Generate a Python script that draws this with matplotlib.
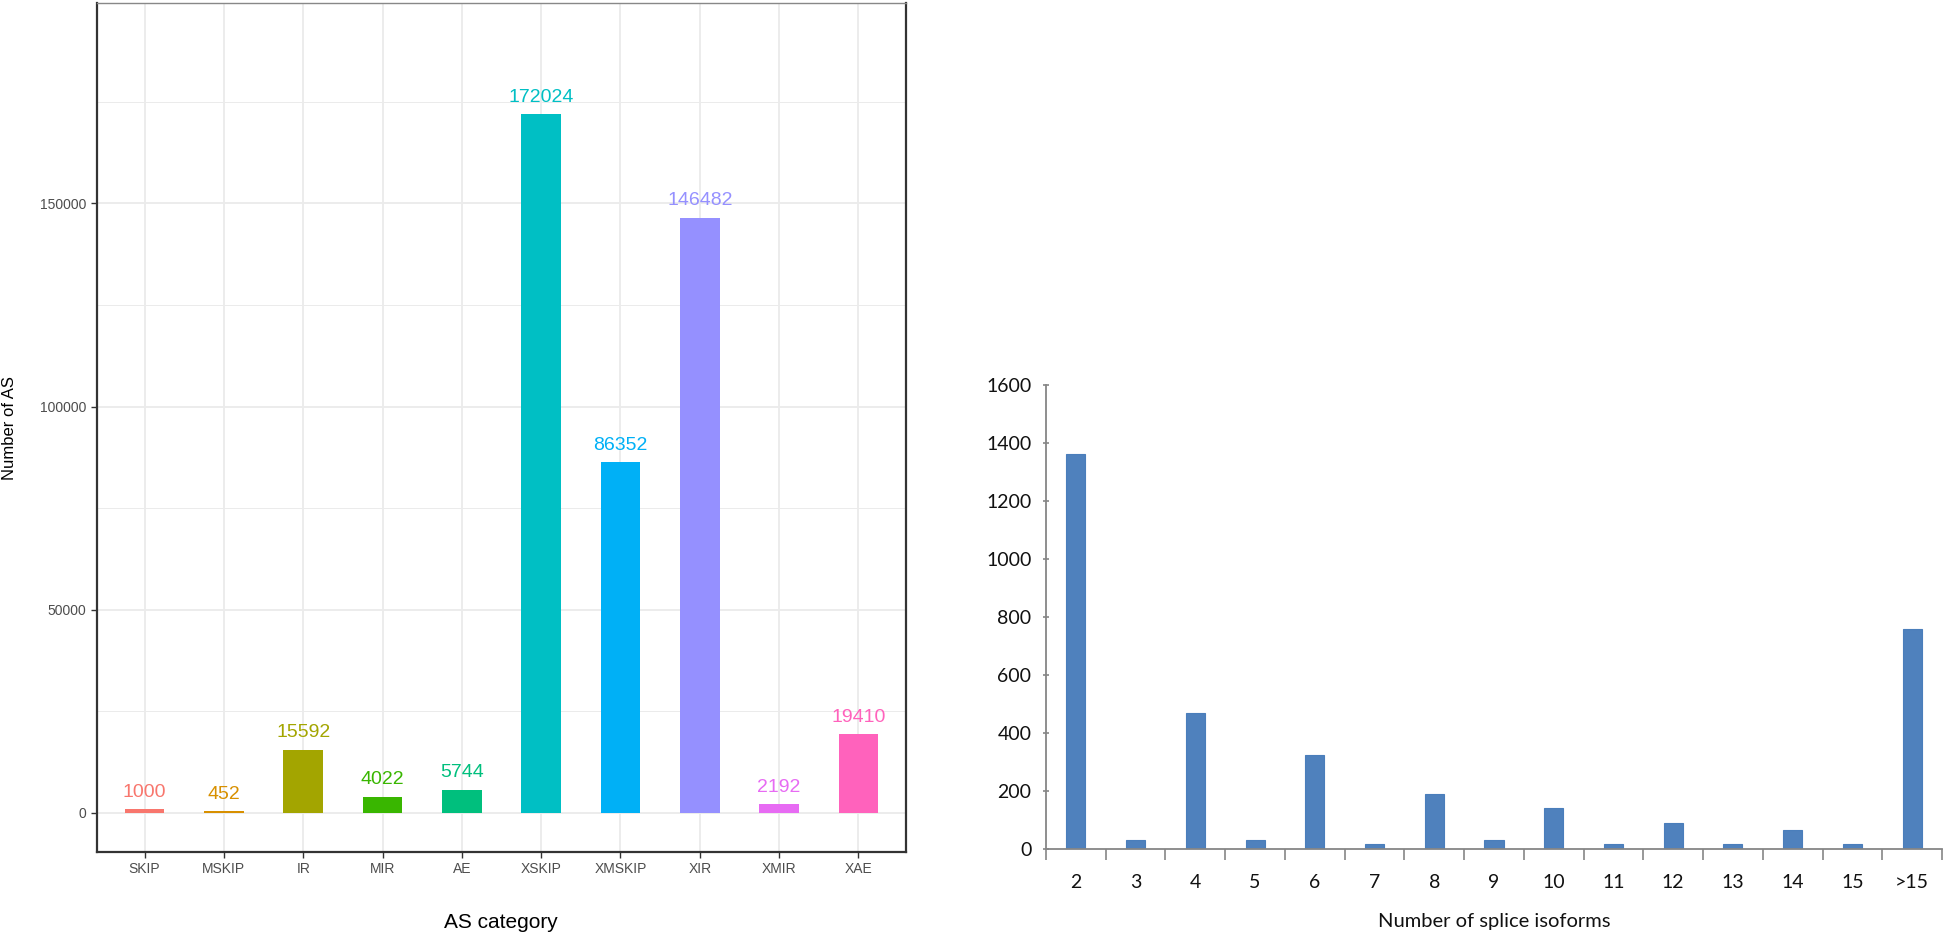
import matplotlib
matplotlib.use("Agg")
import matplotlib.pyplot as plt
import numpy as np

# ---------- données ----------
as_categories = ["SKIP", "MSKIP", "IR", "MIR", "AE", "XSKIP", "XMSKIP", "XIR", "XMIR", "XAE"]
as_counts = [1000, 452, 15592, 4022, 5744, 172024, 86352, 146482, 2192, 19410]
as_colors = ["#F8766D", "#D89000", "#A3A500", "#39B600", "#00BF7D",
             "#00BFC4", "#00B0F6", "#9590FF", "#E76BF3", "#FF62BC"]

isoform_labels = ["2", "3", "4", "5", "6", "7", "8", "9", "10", "11", "12", "13", "14", "15", ">15"]
isoform_counts = [1362, 31, 470, 31, 323, 18, 189, 31, 143, 18, 91, 18, 64, 18, 757]
# ------------------------------

W, H = 1946, 938
fig = plt.figure(figsize=(W / 100, H / 100), dpi=100)

# ---------- panneau gauche (style ggplot theme_bw) ----------
ax1 = fig.add_axes([97 / W, 1 - 852 / H, (906 - 97) / W, (852 - 3) / H])
x = np.arange(len(as_categories))
ax1.set_xlim(-0.6, len(as_categories) - 0.4)
ax1.set_ylim(-9600, 199300)

ax1.set_yticks([0, 50000, 100000, 150000])
ax1.set_yticks([25000, 75000, 125000, 175000], minor=True)
ax1.set_xticks(x)
ax1.set_xticklabels(as_categories)
ax1.grid(True, which="major", color="#EBEBEB", linewidth=1.3, zorder=0)
ax1.grid(True, which="minor", axis="y", color="#EBEBEB", linewidth=0.7, zorder=0)
ax1.set_axisbelow(True)

ax1.bar(x, as_counts, width=0.5, color=as_colors, zorder=2)
for xi, v, c in zip(x, as_counts, as_colors):
    ax1.annotate(str(v), (xi, v), xytext=(0, 6), textcoords="offset points",
                 ha="center", va="bottom", color=c, fontsize=14,
                 family=["Liberation Sans", "DejaVu Sans"])

ax1.tick_params(axis="both", which="major", length=4, width=1, color="#333333",
                labelsize=10, labelcolor="#4D4D4D")
ax1.tick_params(axis="y", which="minor", length=0)
for lab in ax1.get_xticklabels() + ax1.get_yticklabels():
    lab.set_family(["Liberation Sans", "DejaVu Sans"])
for side in ["left", "bottom", "right"]:
    ax1.spines[side].set_color("#333333")
    ax1.spines[side].set_linewidth(1.6)
ax1.spines["top"].set_color("#888888")
ax1.spines["top"].set_linewidth(1.0)

fig.text(10 / W, 1 - 428 / H, "Number of AS", rotation=90, ha="center", va="center",
         fontsize=12, color="black", family=["Liberation Sans", "DejaVu Sans"])
fig.text(501 / W, 1 - 922 / H, "AS category", ha="center", va="center",
         fontsize=15, color="black", family=["Liberation Sans Narrow", "Liberation Sans", "DejaVu Sans"])

# ---------- panneau droit (style Excel) ----------
ax2 = fig.add_axes([1046 / W, 1 - 849 / H, (1942 - 1046) / W, (849 - 385) / H])
xi2 = np.arange(len(isoform_labels))
ax2.bar(xi2, isoform_counts, width=0.32, color="#4F81BD", edgecolor="#4A7EBB",
        linewidth=0.8, zorder=2)
ax2.set_xlim(-0.5, len(isoform_labels) - 0.5)
ax2.set_ylim(0, 1600)
ax2.set_yticks(np.arange(0, 1601, 200))
ax2.set_xticks(xi2)
ax2.set_xticklabels(isoform_labels)
ax2.set_xticks(np.arange(-0.5, len(isoform_labels), 1.0), minor=True)

ax2.tick_params(axis="x", which="major", length=0, pad=18, labelsize=14, labelcolor="#111111")
ax2.tick_params(axis="x", which="minor", length=8, width=1.2, color="#868686", direction="out")
ax2.tick_params(axis="y", which="major", length=5, width=1.2, color="#868686",
                direction="inout", pad=8, labelsize=14, labelcolor="#111111")
for lab in ax2.get_xticklabels() + ax2.get_yticklabels():
    lab.set_family(["Lato", "DejaVu Sans"])
for side in ["top", "right"]:
    ax2.spines[side].set_visible(False)
for side in ["left", "bottom"]:
    ax2.spines[side].set_color("#868686")
    ax2.spines[side].set_linewidth(1.3)

fig.text(1494 / W, 1 - 921 / H, "Number of splice isoforms", ha="center", va="center",
         fontsize=14.5, color="#111111", family=["Lato", "DejaVu Sans"])

fig.savefig("out.png", dpi=100, facecolor="white")
